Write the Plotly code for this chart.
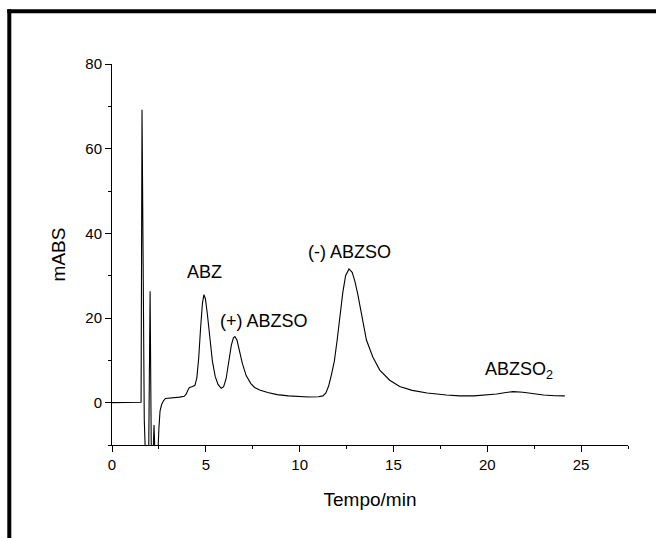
import plotly.graph_objects as go

# Chromatogram trace (time in min, absorbance in mABS)
tempo = [0.0, 0.5, 1.0, 1.4, 1.55,
         1.6, 1.66, 1.72, 1.8,
         1.95, 2.03, 2.1,
         2.17, 2.24, 2.31,
         2.42, 2.5, 2.56, 2.64, 2.75, 2.85, 3.2, 3.6, 3.85, 3.95, 4.05, 4.13,
         4.3, 4.42, 4.52, 4.62, 4.72, 4.82, 4.9, 4.98, 5.08, 5.2, 5.35, 5.5,
         5.65, 5.82, 5.95, 6.08, 6.22, 6.36, 6.47, 6.55, 6.66, 6.8, 6.95, 7.15,
         7.4, 7.6, 7.87, 8.3, 8.8, 9.4, 10.0, 10.5, 11.0, 11.24, 11.4, 11.55,
         11.7, 11.85, 12.0, 12.15, 12.3, 12.45, 12.63, 12.8, 12.95, 13.1, 13.3,
         13.56, 13.9, 14.27, 14.8, 15.33, 16.0, 16.8, 17.82, 18.53, 19.3, 19.9,
         20.5, 21.0, 21.38, 21.9, 22.5, 23.0, 23.6, 24.13]
mabs = [0.0, 0.0, 0.0, 0.0, 0.1,
        69.2, 30.0, -4.0, -15.0,
        -15.0, 26.3, -15.0,
        -15.0, -5.3, -15.0,
        -15.0, -6.0, -2.0, -0.5, 0.5, 1.0, 1.1, 1.3, 1.5, 2.0, 3.0, 3.6,
        3.8, 4.1, 5.8, 10.5, 17.5, 23.5, 25.5, 24.5, 21.0, 15.5, 9.8, 6.2,
        4.3, 3.4, 3.8, 5.6, 9.5, 13.6, 15.3, 15.6, 14.8, 12.3, 9.2, 6.4,
        4.5, 3.6, 3.0, 2.4, 1.9, 1.6, 1.42, 1.35, 1.4, 1.6, 2.3, 4.0,
        6.7, 9.8, 14.8, 20.5, 26.0, 30.0, 31.6, 30.8, 28.6, 25.6, 21.0,
        14.8, 10.8, 7.7, 5.3, 3.8, 2.9, 2.3, 1.8, 1.6, 1.6, 1.75,
        2.05, 2.4, 2.6, 2.45, 2.1, 1.8, 1.65, 1.6]

# Peak labels
peak_names = ["ABZ", "(+) ABZSO", "(-) ABZSO", "ABZSO<sub>2</sub>"]
peak_label_x = [4.93, 8.08, 12.67, 21.68]
peak_label_y = [30.9, 19.3, 35.7, 7.5]

x_ticks = [0, 5, 10, 15, 20, 25]
y_ticks = [0, 20, 40, 60, 80]

FONT = "Liberation Sans, Arial, sans-serif"

fig = go.Figure()
fig.add_trace(go.Scatter(x=tempo, y=mabs, mode="lines",
                         line=dict(color="black", width=1.1),
                         showlegend=False, hoverinfo="skip"))

for name, lx, ly in zip(peak_names, peak_label_x, peak_label_y):
    fig.add_annotation(x=lx, y=ly, text=name, showarrow=False,
                       xanchor="center", yanchor="middle",
                       font=dict(family=FONT, size=18, color="black"))

fig.update_layout(
    width=656, height=538,
    margin=dict(l=112, r=28, t=64, b=93),
    paper_bgcolor="white", plot_bgcolor="white",
    font=dict(family=FONT, color="black"),
    showlegend=False,
    shapes=[
        dict(type="line", xref="paper", yref="paper",
             x0=(7.3 - 112) / 516, x1=(660 - 112) / 516,
             y0=(445 - 11.3) / 381, y1=(445 - 11.3) / 381,
             line=dict(color="black", width=4)),
        dict(type="line", xref="paper", yref="paper",
             x0=(9.3 - 112) / 516, x1=(9.3 - 112) / 516,
             y0=(445 - 9.3) / 381, y1=(445 - 545) / 381,
             line=dict(color="black", width=4)),
    ],
)

fig.update_xaxes(range=[0, 27.5], tickvals=x_ticks, ticks="outside", ticklen=6,
                 tickwidth=1, tickcolor="black", showline=True, linecolor="black",
                 linewidth=1, showgrid=False, zeroline=False,
                 tickfont=dict(family=FONT, size=15, color="black"),
                 minor=dict(ticks="outside", ticklen=3, tickwidth=1, tickcolor="black",
                            dtick=2.5, tick0=0, showgrid=False),
                 title=dict(text="Tempo/min", font=dict(family=FONT, size=19, color="black"),
                            standoff=20))
fig.update_yaxes(range=[-10, 80], tickvals=y_ticks, ticks="outside", ticklen=6,
                 tickwidth=1, tickcolor="black", showline=True, linecolor="black",
                 linewidth=1, showgrid=False, zeroline=False,
                 tickfont=dict(family=FONT, size=15, color="black"),
                 minor=dict(ticks="outside", ticklen=3, tickwidth=1, tickcolor="black",
                            dtick=10, tick0=0, showgrid=False),
                 title=dict(text="mABS", font=dict(family=FONT, size=19, color="black"),
                            standoff=14))

fig.write_html("out.html")
